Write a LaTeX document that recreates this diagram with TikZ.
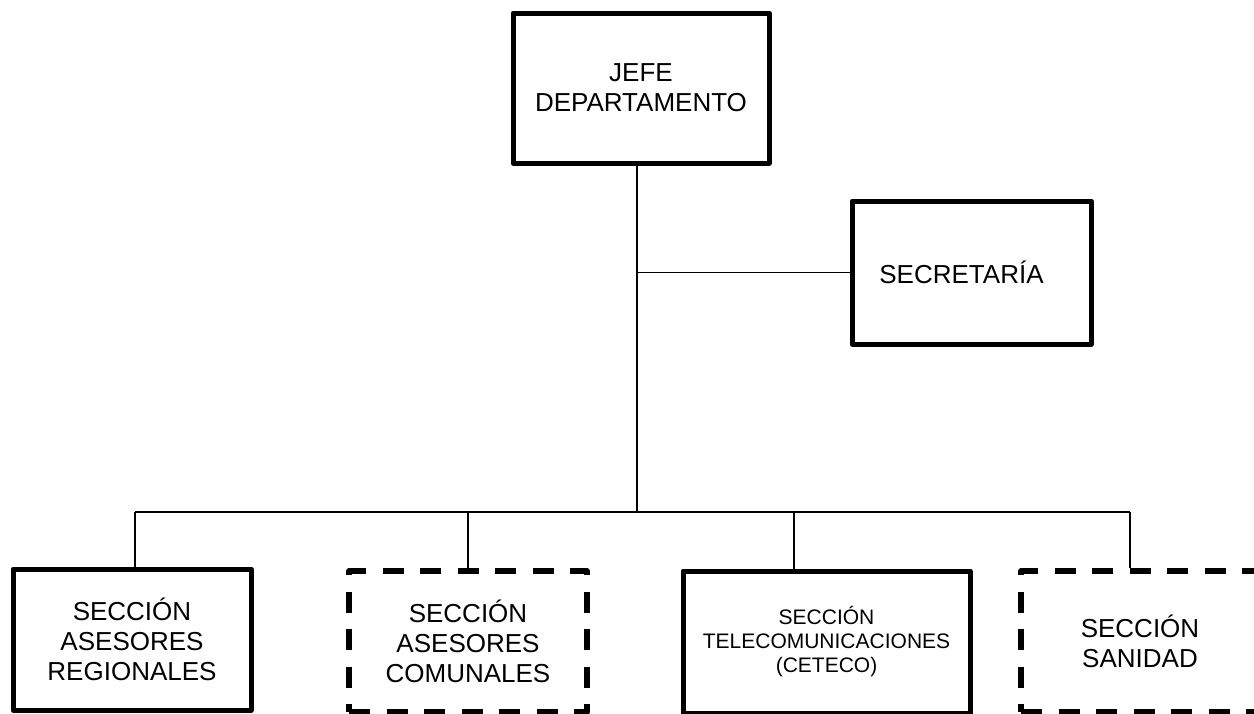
\documentclass[tikz,border=0pt]{standalone}
\usepackage{fontspec}
\setmainfont{Liberation Sans}

\begin{document}
\begin{tikzpicture}[x=1pt,y=-1pt]

      \tikzstyle{every node}=[draw,rectangle,line width=5pt,line join=round,
                            align=center,inner sep=0pt,
                            font=\fontsize{26}{30}\selectfont]
      \tikzstyle{punteado}=[line width=5.5pt,dash pattern=on 21pt off 16.5pt]
      \tikzstyle{linea}=[line width=1.5pt]

      \useasboundingbox (0,0) rectangle (1254,713);

      \node (jefe) at (641,88) [minimum width=256pt,minimum height=150pt]
          {JEFE\\DEPARTAMENTO};
      \node (secretaria) at (971.5,272.5) [minimum width=239pt,minimum height=143pt]
          {SECRETARÍA\hspace*{20pt}};

      \node (regionales) at (132,639.5) [minimum width=238pt,minimum height=141pt]
          {SECCIÓN\\ASESORES\\REGIONALES};
      \node (comunales) at (468,641.5) [punteado,minimum width=238pt,minimum height=141pt]
          {SECCIÓN\\ASESORES\\COMUNALES};
      \node (ceteco) at (826.5,642) [minimum width=287pt,minimum height=142pt,
                                     font=\fontsize{21}{24}\selectfont]
          {SECCIÓN\\TELECOMUNICACIONES\\(CETECO)};
      \node (sanidad) at (1140,641.5) [punteado,minimum width=238pt,minimum height=141pt]
          {SECCIÓN\\SANIDAD};

      %\tikzstyle{every label}=[distance=5mm]

      \coordinate (centro) at (637,512);
      \coordinate (b1) at (135,512);
      \coordinate (b3) at (794,512);
      \coordinate (b4) at (1130,512);

      \draw[linea] (jefe.south -| centro) -- (centro);
      \draw[linea] (centro |- secretaria.west) -- (secretaria.west);
      \draw[linea] (b1) -- (b4);

      \draw[linea] (b1) -- (b1 |- regionales.north);
      \draw[linea] (comunales.north |- centro) -- (comunales.north);
      \draw[linea] (b3) -- (b3 |- ceteco.north);
      \draw[linea] (b4) -- (b4 |- sanidad.north);

    \end{tikzpicture}
\end{document}
